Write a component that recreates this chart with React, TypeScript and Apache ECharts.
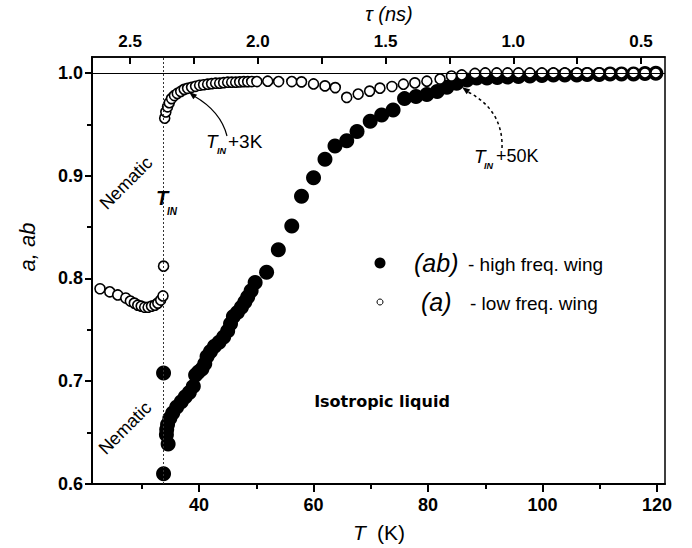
import React, { useEffect, useRef } from "react";
import * as echarts from "echarts";

// ---- data ----
const T_IN = 33.8;

// (ab) high frequency wing, filled circles
const abT = [33.8, 33.8, 34.6, 34.3, 34.35, 34.5, 34.9, 35.4, 36.1, 36.9, 37.6, 38.3, 39.0, 39.4, 39.9, 40.5, 41.0, 41.4, 42.0, 42.7, 43.5, 44.3, 45.0, 45.5, 46.0, 46.7, 47.4, 48.0, 48.5, 49.1, 49.8, 51.8, 53.85, 56.2, 57.9, 60.0, 62.0, 63.75, 65.8, 67.6, 69.9, 71.9, 73.9, 75.9, 77.9, 79.8, 81.6, 83.3, 85.0, 86.8, 88.5, 90.3, 92.1, 93.9, 95.8, 97.8, 99.9, 101.9, 103.9, 106.0, 107.8, 109.9, 111.8, 113.8, 115.9, 117.9, 119.8];
const abV = [0.610, 0.708, 0.639, 0.648, 0.653, 0.658, 0.664, 0.669, 0.675, 0.680, 0.685, 0.689, 0.695, 0.706, 0.709, 0.712, 0.717, 0.724, 0.729, 0.734, 0.738, 0.743, 0.749, 0.756, 0.763, 0.767, 0.772, 0.777, 0.782, 0.788, 0.796, 0.806, 0.828, 0.851, 0.880, 0.898, 0.916, 0.929, 0.934, 0.943, 0.953, 0.959, 0.964, 0.975, 0.977, 0.979, 0.982, 0.986, 0.990, 0.993, 0.995, 0.995, 0.9955, 0.996, 0.9965, 0.997, 0.9975, 0.998, 0.998, 0.998, 0.9985, 0.9985, 0.999, 0.999, 0.999, 0.9995, 0.9997];

// (a) low frequency wing, open circles
const aT = [22.7, 24.4, 25.8, 27.2, 28.0, 28.7, 29.3, 29.9, 30.5, 31.1, 31.7, 32.3, 32.8, 33.3, 33.7, 33.8, 34.0, 34.2, 34.5, 34.8, 35.2, 35.7, 36.2, 36.8, 37.4, 38.0, 38.7, 39.4, 40.1, 40.8, 41.5, 42.2, 42.9, 43.6, 44.3, 45.0, 45.7, 46.4, 47.1, 47.8, 48.5, 49.2, 50.1, 52.0, 53.9, 56.2, 57.9, 60.0, 62.0, 63.8, 65.8, 67.8, 69.8, 71.6, 73.7, 75.7, 77.7, 79.8, 82.1, 84.1, 85.9, 88.2, 90.0, 92.0, 93.9, 95.8, 97.8, 99.9, 101.9, 103.9, 106.0, 107.8, 109.9, 111.8, 113.8, 115.9, 117.9, 119.8];
const aV = [0.790, 0.787, 0.784, 0.781, 0.778, 0.776, 0.774, 0.773, 0.772, 0.772, 0.773, 0.774, 0.776, 0.779, 0.783, 0.812, 0.956, 0.962, 0.967, 0.971, 0.975, 0.978, 0.980, 0.982, 0.984, 0.985, 0.986, 0.987, 0.988, 0.9885, 0.989, 0.9895, 0.990, 0.990, 0.9905, 0.991, 0.991, 0.991, 0.9912, 0.9915, 0.9915, 0.9916, 0.9916, 0.992, 0.9916, 0.9916, 0.9913, 0.9893, 0.9874, 0.9857, 0.9762, 0.9794, 0.9823, 0.9852, 0.9868, 0.989, 0.9903, 0.992, 0.994, 0.997, 0.998, 0.9995, 1.0, 1.0, 1.0, 1.0, 1.0, 1.0, 1.0, 1.0, 1.0, 1.0, 1.0, 1.0, 1.0, 1.0, 1.0, 1.0];

// axis ticks
const xMajorTicks = [40, 60, 80, 100, 120];
const xMinorTicks = [30, 50, 70, 90, 110];
const yMajorTicks = [0.6, 0.7, 0.8, 0.9, 1.0];
const yMinorTicks = [0.65, 0.75, 0.85, 0.95];
const tauLabels = [0.5, 1.0, 1.5, 2.0, 2.5];
const tauTicks = [0.5, 0.75, 1.0, 1.25, 1.5, 1.75, 2.0, 2.25, 2.5];

const X_MIN = 21.3;
const X_MAX = 121.4;
const Y_MIN = 0.6;
const Y_MAX = 1.0155;
const TAU_MIN = 0.406;
const TAU_MAX = 2.649;

const FONT = "'Liberation Sans', Arial, sans-serif";

export default function App() {
  const ref = useRef<HTMLDivElement>(null);
  useEffect(() => {
    document.body.style.margin = "0";
    const chart = echarts.init(ref.current!, null, { renderer: "svg" });
    const lbl = { color: "#000", fontFamily: FONT, fontSize: 18, fontWeight: "bold" as const };
    const txt = (x: number, y: number, text: string, o: any = {}) => ({
      type: "text",
      x,
      y,
      rotation: o.rotation || 0,
      z: 100,
      style: {
        text,
        fill: "#000",
        fontFamily: o.fontFamily || FONT,
        fontSize: o.fontSize || 18,
        fontStyle: o.fontStyle || "normal",
        fontWeight: o.fontWeight || "normal",
        align: o.align || "left",
        verticalAlign: "middle",
      },
    });
    const option: any = {
      animation: false,
      backgroundColor: "#fff",
      grid: { left: 92, right: 27, top: 57, bottom: 64, show: true, borderColor: "#000", borderWidth: 1.5, backgroundColor: "transparent" },
      xAxis: [
        {
          type: "value", position: "bottom", min: X_MIN, max: X_MAX,
          axisLine: { show: true, onZero: false, lineStyle: { color: "#000", width: 2 } },
          axisTick: { show: true, customValues: xMajorTicks, length: 8, lineStyle: { color: "#000", width: 2 } },
          axisLabel: { show: true, customValues: xMajorTicks, margin: 12, ...lbl, formatter: (v: number) => String(Math.round(v)) },
          splitLine: { show: false },
        },
        {
          type: "value", position: "top", inverse: true, min: TAU_MIN, max: TAU_MAX,
          axisLine: { show: true, onZero: false, lineStyle: { color: "#000", width: 1.5 } },
          axisTick: { show: true, inside: true, customValues: tauTicks, length: 7, lineStyle: { color: "#000", width: 2 } },
          axisLabel: { show: true, customValues: tauLabels, margin: 7, ...lbl, fontSize: 17, formatter: (v: number) => v.toFixed(1) },
          splitLine: { show: false },
        },
        {
          type: "value", position: "bottom", min: X_MIN, max: X_MAX,
          axisLine: { show: false },
          axisTick: { show: true, customValues: xMinorTicks, length: 5, lineStyle: { color: "#000", width: 2 } },
          axisLabel: { show: false },
          splitLine: { show: false },
        },
      ],
      yAxis: [
        {
          type: "value", position: "left", min: Y_MIN, max: Y_MAX,
          axisLine: { show: true, onZero: false, lineStyle: { color: "#000", width: 2 } },
          axisTick: { show: true, customValues: yMajorTicks, length: 7, lineStyle: { color: "#000", width: 2 } },
          axisLabel: { show: true, customValues: yMajorTicks, margin: 9, ...lbl, formatter: (v: number) => v.toFixed(1) },
          splitLine: { show: false },
        },
        {
          type: "value", position: "left", min: Y_MIN, max: Y_MAX,
          axisLine: { show: false },
          axisTick: { show: true, customValues: yMinorTicks, length: 5, lineStyle: { color: "#000", width: 2 } },
          axisLabel: { show: false },
          splitLine: { show: false },
        },
      ],
      series: [
        {
          name: "(ab) - high freq. wing",
          type: "scatter",
          xAxisIndex: 0,
          yAxisIndex: 0,
          symbol: "circle",
          symbolSize: 15,
          itemStyle: { color: "#000", opacity: 1 },
          emphasis: { disabled: true },
          data: abT.map((t, i) => [t, abV[i]]),
          z: 2,
          markLine: {
            silent: true,
            symbol: ["none", "none"],
            label: { show: false },
            data: [
              { yAxis: 1.0, lineStyle: { type: "solid", color: "#000", width: 1 } },
              { xAxis: T_IN, lineStyle: { type: [2, 2], color: "#333", width: 1 } },
            ],
          },
        },
        {
          name: "(a) - low freq. wing",
          type: "scatter",
          xAxisIndex: 0,
          yAxisIndex: 0,
          symbol: "circle",
          symbolSize: 10,
          itemStyle: { color: "#fff", borderColor: "#000", borderWidth: 1.6, opacity: 1 },
          emphasis: { disabled: true },
          data: aT.map((t, i) => [t, aV[i]]),
          z: 3,
        },
      ],
      graphic: [
        // axis names
        txt(27, 247, "a, ab", { fontSize: 22, fontStyle: "italic", rotation: Math.PI / 2, align: "center" }),
        txt(353, 532, "T", { fontSize: 21, fontStyle: "italic" }),
        txt(377, 532, "(K)", { fontSize: 21 }),
        txt(389, 14, "τ (ns)", { fontSize: 20, fontStyle: "italic", align: "center" }),
        // phase labels
        txt(126, 183, "Nematic", { fontSize: 18, rotation: Math.PI / 4, align: "center" }),
        txt(125, 428, "Nematic", { fontSize: 18, rotation: Math.PI / 4, align: "center" }),
        txt(382, 401, "Isotropic liquid", { fontSize: 16, fontWeight: "bold", fontFamily: "'DejaVu Sans', sans-serif", align: "center" }),
        // T_IN
        txt(156, 198, "T", { fontSize: 20, fontStyle: "italic", fontWeight: "bold" }),
        txt(167, 211, "IN", { fontSize: 10, fontStyle: "italic", fontWeight: "bold" }),
        // T_IN + 3K
        txt(206, 141, "T", { fontSize: 19, fontStyle: "italic" }),
        txt(217, 151, "IN", { fontSize: 9, fontStyle: "italic", fontWeight: "bold" }),
        txt(228, 141, "+3K", { fontSize: 19 }),
        // T_IN + 50K
        txt(474, 156, "T", { fontSize: 19, fontStyle: "italic" }),
        txt(484, 166, "IN", { fontSize: 9, fontStyle: "italic", fontWeight: "bold" }),
        txt(496, 156, "+50K", { fontSize: 18 }),
        // arrows
        {
          type: "bezierCurve", z: 100,
          shape: { x1: 227, y1: 136, cpx1: 222, cpy1: 116, cpx2: 208, cpy2: 104, x2: 194, y2: 96 },
          style: { stroke: "#000", lineWidth: 1.2, fill: "none" },
        },
        { type: "polygon", z: 100, shape: { points: [[189, 92], [197.1, 94.7], [193.3, 99.3]] }, style: { fill: "#000" } },
        {
          type: "bezierCurve", z: 100,
          shape: { x1: 502, y1: 148, cpx1: 503, cpy1: 122, cpx2: 490, cpy2: 103, x2: 468, y2: 92 },
          style: { stroke: "#000", lineWidth: 1.5, fill: "none", lineDash: [3, 3] },
        },
        { type: "polygon", z: 100, shape: { points: [[462, 87], [470.2, 89.4], [466.6, 94.2]] }, style: { fill: "#000" } },
        // legend
        { type: "circle", z: 100, shape: { cx: 380, cy: 263, r: 5.5 }, style: { fill: "#000" } },
        { type: "circle", z: 100, shape: { cx: 380, cy: 302, r: 3 }, style: { fill: "#fff", stroke: "#000", lineWidth: 1 } },
        txt(414, 263, "(ab)", { fontSize: 25, fontStyle: "italic" }),
        txt(468, 264, "- high freq. wing", { fontSize: 19 }),
        txt(421, 302, "(a)", { fontSize: 25, fontStyle: "italic" }),
        txt(470, 303, "- low freq. wing", { fontSize: 19 }),
      ],
    };
    chart.setOption(option);
    return () => chart.dispose();
  }, []);
  return <div ref={ref} style={{ position: "fixed", left: 0, top: 0, width: 692, height: 548 }} />;
}
